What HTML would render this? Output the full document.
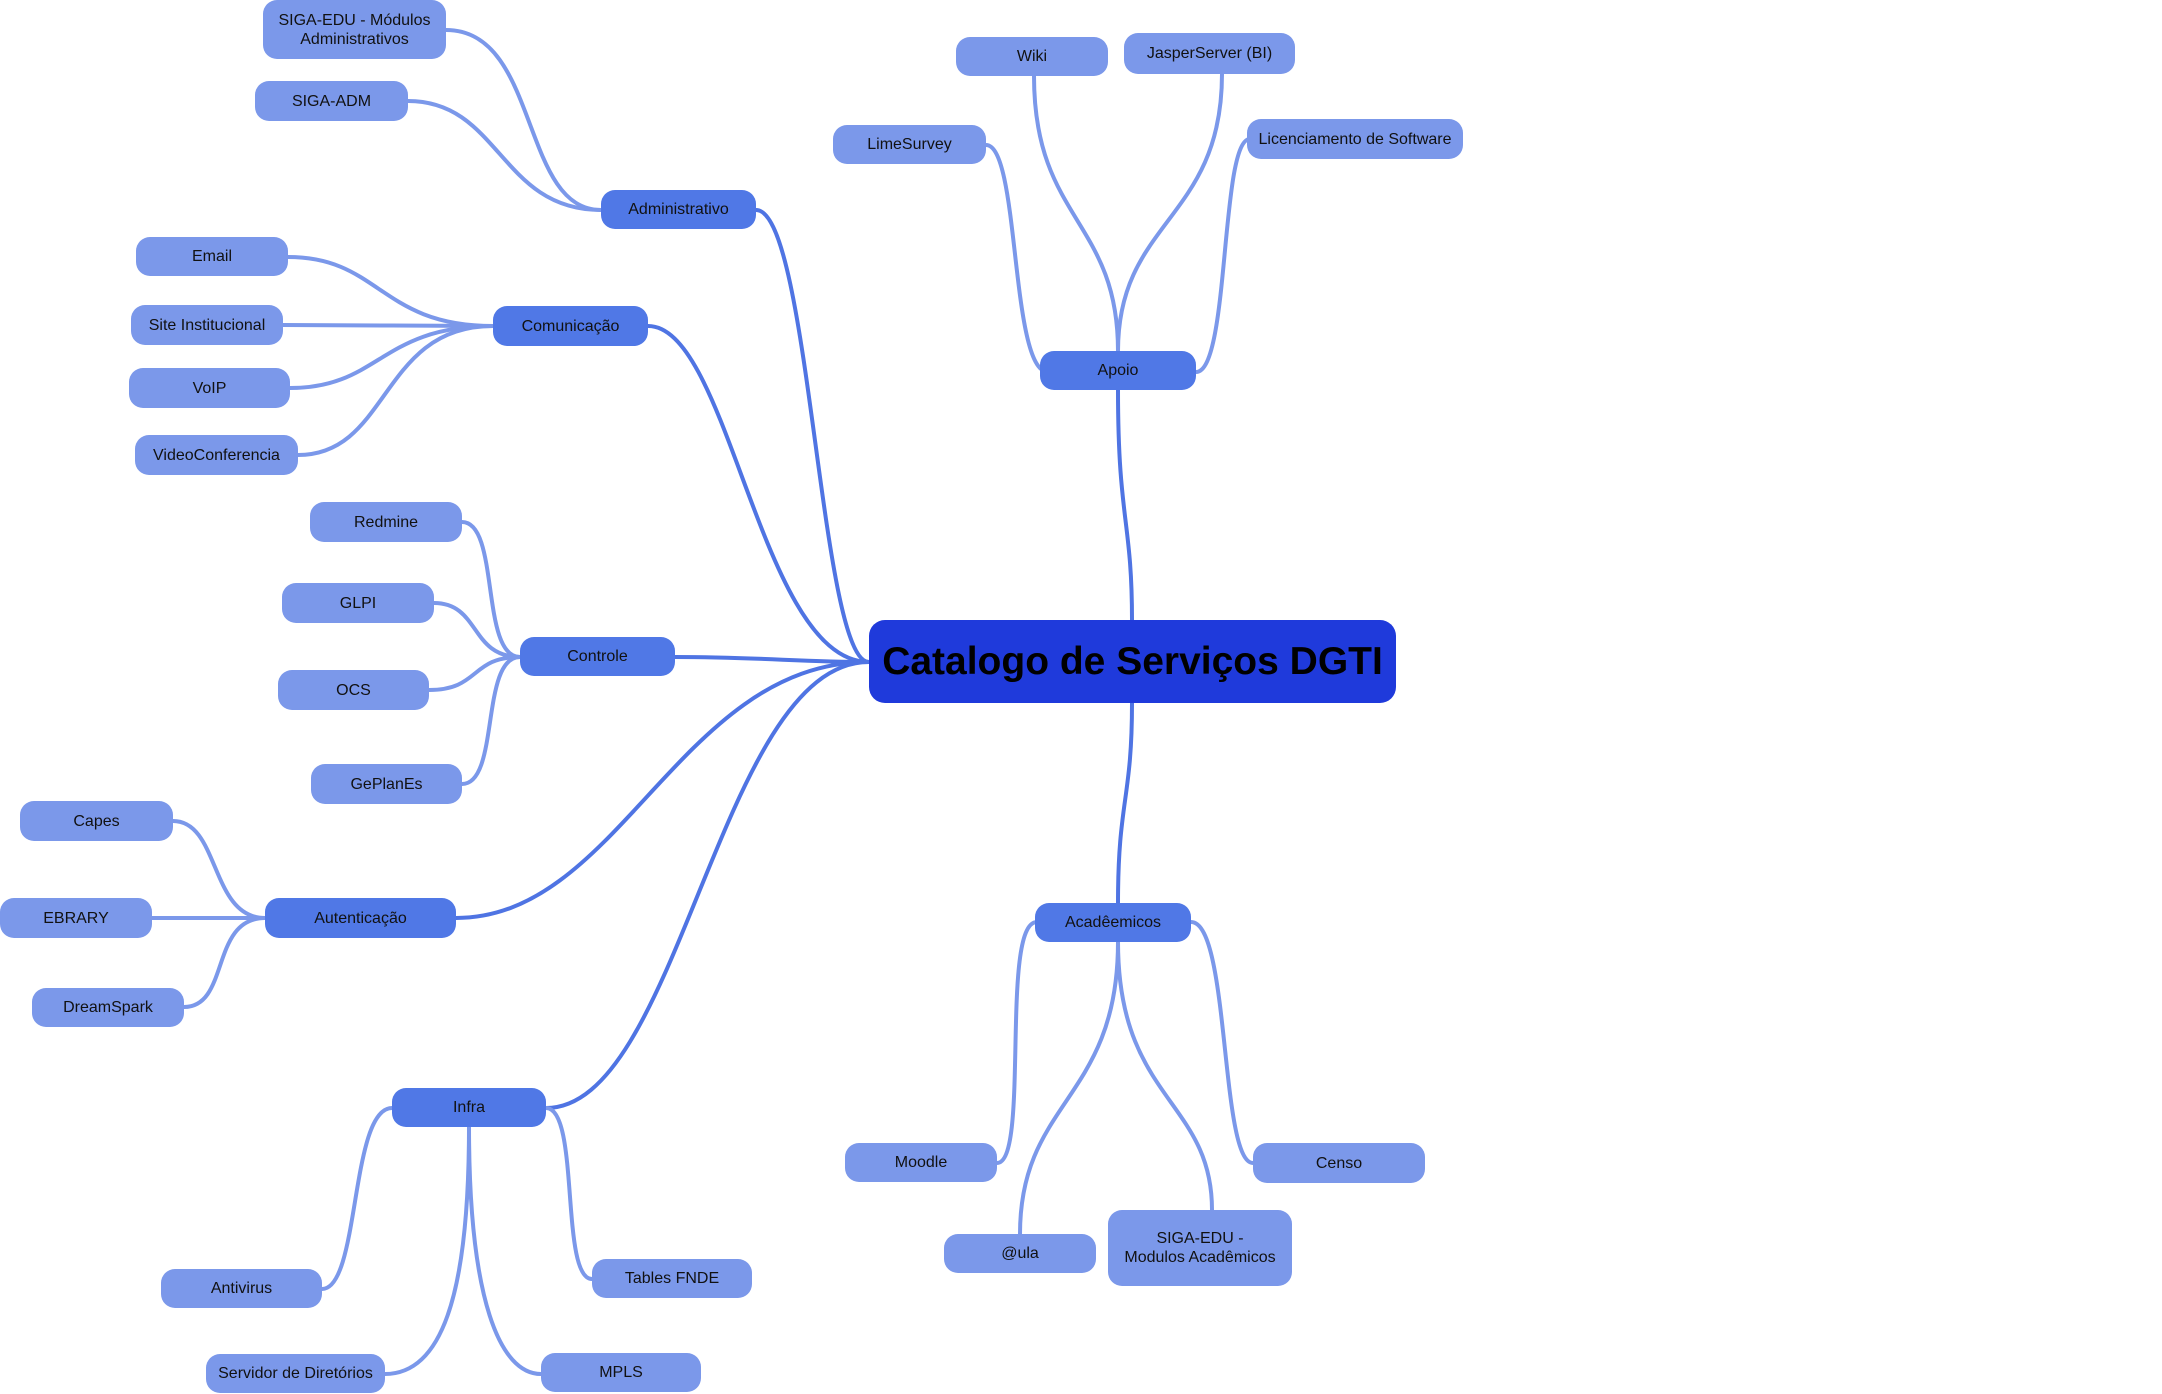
<!DOCTYPE html>
<html><head><meta charset="utf-8"><style>
html,body{margin:0;padding:0;background:#fff;}
body{width:2162px;height:1394px;position:relative;overflow:hidden;font-family:"Liberation Sans",sans-serif;}
.n{position:absolute;display:flex;align-items:center;justify-content:center;text-align:center;border-radius:14px;color:#111;font-size:16px;line-height:19px;box-sizing:border-box;}
.l{background:#7b98ea;}
.m{background:#5078e6;}
.c{background:#1f3adb;font-weight:bold;font-size:39px;border-radius:16px;color:#000;}
svg{position:absolute;left:0;top:0;}
</style></head><body>
<svg width="2162" height="1394" fill="none" stroke-linecap="round">
<g stroke="#4f74e3" stroke-width="4">
<path d="M869 662 C820 662 810 210 756 210"/>
<path d="M869 662 C760 662 730 326 648 326"/>
<path d="M869 662 C800 662 760 657 675 657"/>
<path d="M869 662 C680 662 620 918 456 918"/>
<path d="M869 662 C720 662 680 1108 546 1108"/>
<path d="M1118 390 C1118 520 1132 520 1132 620"/>
<path d="M1132 703 C1132 800 1118 800 1118 903"/>
</g>
<g stroke="#7b98ea" stroke-width="4">
<path d="M601 210 C520 210 540 30 446 30"/>
<path d="M601 210 C500 210 500 101 408 101"/>
<path d="M493 326 C380 326 380 257 288 257"/>
<path d="M493 326 C400 326 380 325 283 325"/>
<path d="M493 326 C380 326 380 388 290 388"/>
<path d="M493 326 C380 326 390 455 298 455"/>
<path d="M520 657 C480 657 500 522 462 522"/>
<path d="M520 657 C470 657 480 603 434 603"/>
<path d="M520 657 C470 657 480 690 429 690"/>
<path d="M520 657 C480 657 500 784 462 784"/>
<path d="M265 918 C210 918 220 821 173 821"/>
<path d="M265 918 C210 918 200 918 152 918"/>
<path d="M265 918 C210 918 230 1007 184 1007"/>
<path d="M392 1108 C350 1108 360 1289 322 1289"/>
<path d="M546 1108 C580 1108 560 1279 592 1279"/>
<path d="M469 1127 C469 1300 440 1374 385 1374"/>
<path d="M469 1127 C469 1300 500 1374 541 1374"/>
<path d="M1118 351 C1118 220 1034 220 1034 76"/>
<path d="M1118 351 C1118 220 1222 220 1222 74"/>
<path d="M1048 372 C1010 372 1020 145 986 145"/>
<path d="M1196 372 C1230 372 1220 139 1250 139"/>
<path d="M1037 922 C1000 922 1030 1163 997 1163"/>
<path d="M1191 922 C1230 922 1220 1163 1253 1163"/>
<path d="M1118 942 C1118 1100 1020 1100 1020 1234"/>
<path d="M1118 942 C1118 1100 1212 1100 1212 1210"/>
</g>
</svg>
<div class="n c" style="left:869px;top:620px;width:527px;height:83px;">Catalogo de Serviços DGTI</div>
<div class="n m" style="left:601px;top:190px;width:155px;height:39px;">Administrativo</div>
<div class="n m" style="left:493px;top:306px;width:155px;height:40px;">Comunicação</div>
<div class="n m" style="left:520px;top:637px;width:155px;height:39px;">Controle</div>
<div class="n m" style="left:265px;top:898px;width:191px;height:40px;">Autenticação</div>
<div class="n m" style="left:392px;top:1088px;width:154px;height:39px;">Infra</div>
<div class="n m" style="left:1040px;top:351px;width:156px;height:39px;">Apoio</div>
<div class="n m" style="left:1035px;top:903px;width:156px;height:39px;">Acadêemicos</div>
<div class="n l" style="left:263px;top:0px;width:183px;height:59px;">SIGA-EDU - Módulos<br>Administrativos</div>
<div class="n l" style="left:255px;top:81px;width:153px;height:40px;">SIGA-ADM</div>
<div class="n l" style="left:136px;top:237px;width:152px;height:39px;">Email</div>
<div class="n l" style="left:131px;top:305px;width:152px;height:40px;">Site Institucional</div>
<div class="n l" style="left:129px;top:368px;width:161px;height:40px;">VoIP</div>
<div class="n l" style="left:135px;top:435px;width:163px;height:40px;">VideoConferencia</div>
<div class="n l" style="left:310px;top:502px;width:152px;height:40px;">Redmine</div>
<div class="n l" style="left:282px;top:583px;width:152px;height:40px;">GLPI</div>
<div class="n l" style="left:278px;top:670px;width:151px;height:40px;">OCS</div>
<div class="n l" style="left:311px;top:764px;width:151px;height:40px;">GePlanEs</div>
<div class="n l" style="left:20px;top:801px;width:153px;height:40px;">Capes</div>
<div class="n l" style="left:0px;top:898px;width:152px;height:40px;">EBRARY</div>
<div class="n l" style="left:32px;top:988px;width:152px;height:39px;">DreamSpark</div>
<div class="n l" style="left:161px;top:1269px;width:161px;height:39px;">Antivirus</div>
<div class="n l" style="left:206px;top:1354px;width:179px;height:39px;">Servidor de Diretórios</div>
<div class="n l" style="left:541px;top:1353px;width:160px;height:39px;">MPLS</div>
<div class="n l" style="left:592px;top:1259px;width:160px;height:39px;">Tables FNDE</div>
<div class="n l" style="left:956px;top:37px;width:152px;height:39px;">Wiki</div>
<div class="n l" style="left:1124px;top:33px;width:171px;height:41px;">JasperServer (BI)</div>
<div class="n l" style="left:833px;top:125px;width:153px;height:39px;">LimeSurvey</div>
<div class="n l" style="left:1247px;top:119px;width:216px;height:40px;">Licenciamento de Software</div>
<div class="n l" style="left:845px;top:1143px;width:152px;height:39px;">Moodle</div>
<div class="n l" style="left:944px;top:1234px;width:152px;height:39px;">@ula</div>
<div class="n l" style="left:1108px;top:1210px;width:184px;height:76px;">SIGA-EDU -<br>Modulos Acadêmicos</div>
<div class="n l" style="left:1253px;top:1143px;width:172px;height:40px;">Censo</div>
</body></html>
